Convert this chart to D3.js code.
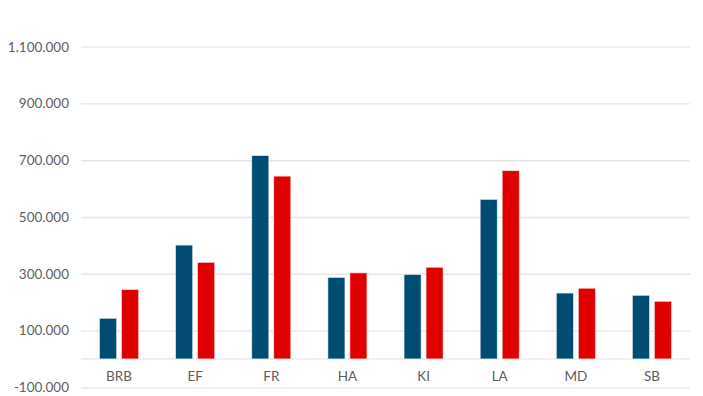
<!DOCTYPE html>
<html>
<head>
<meta charset="utf-8">
<script src="https://cdn.jsdelivr.net/npm/d3@7"></script>
<style>
  body { margin: 0; background: #fff; }
  .tick text { font-family: Lato, "Open Sans", sans-serif; font-size: 13.5px; fill: #606060; }
</style>
</head>
<body>
<div id="chart"></div>
<script>
var categories = ["BRB", "EF", "FR", "HA", "KI", "LA", "MD", "SB"];
var seriesBlue = [143000, 401000, 716000, 287000, 297000, 562000, 232000, 224000];
var seriesRed = [244000, 340000, 644000, 303000, 323000, 663000, 249000, 203000];
var yTicks = [-100000, 100000, 300000, 500000, 700000, 900000, 1100000];

drawChart();

function drawChart() {
  var width = 703, height = 396;
  var margin = {top: 46.7, right: 13, bottom: 8.7, left: 81};
  var innerW = width - margin.left - margin.right,
      innerH = height - margin.top - margin.bottom;

  var svg = d3.select("#chart").append("svg")
      .attr("width", width)
      .attr("height", height);

  var g = svg.append("g")
      .attr("transform", "translate(" + margin.left + "," + margin.top + ")");

  var x = d3.scaleBand().domain(categories).range([0, innerW]);
  var y = d3.scaleLinear().domain([-100000, 1100000]).range([innerH, 0]);

  var fmt = function(d) { return d3.format(",")(d).replace(/,/g, ".").replace("−", "-"); };

  // gridlines + labels
  var yAxis = g.append("g")
      .call(d3.axisLeft(y).tickValues(yTicks).tickSize(-innerW).tickPadding(12).tickFormat(fmt));
  yAxis.select(".domain").remove();
  yAxis.selectAll(".tick line").attr("stroke", "#e6e6e6").attr("stroke-width", 1.3);

  // zero line (category axis)
  g.append("line")
    .attr("x1", 0).attr("x2", innerW)
    .attr("y1", y(0)).attr("y2", y(0))
    .attr("stroke", "#e6e6e6").attr("stroke-width", 1.3);

  // category labels
  var xAxis = g.append("g")
      .attr("transform", "translate(0," + y(0) + ")")
      .call(d3.axisBottom(x).tickSize(0).tickPadding(13));
  xAxis.select(".domain").remove();

  var barW = 17, gap = 2.5;
  var rows = categories.map(function(c, i) { return {c: c, blue: seriesBlue[i], red: seriesRed[i]}; });

  g.selectAll(".bar-blue").data(rows).enter().append("rect")
    .attr("class", "bar-blue")
    .attr("x", function(d) { return x(d.c) + x.bandwidth() / 2 - gap - barW; })
    .attr("width", barW)
    .attr("y", function(d) { return y(d.blue); })
    .attr("height", function(d) { return y(0) - y(d.blue); })
    .attr("fill", "#004c72")
    .attr("stroke", "#dfe8ee").attr("stroke-width", 0.6);

  g.selectAll(".bar-red").data(rows).enter().append("rect")
    .attr("class", "bar-red")
    .attr("x", function(d) { return x(d.c) + x.bandwidth() / 2 + gap; })
    .attr("width", barW)
    .attr("y", function(d) { return y(d.red); })
    .attr("height", function(d) { return y(0) - y(d.red); })
    .attr("fill", "#e00000")
    .attr("stroke", "#f4dede").attr("stroke-width", 0.6);
}
</script>
</body>
</html>
